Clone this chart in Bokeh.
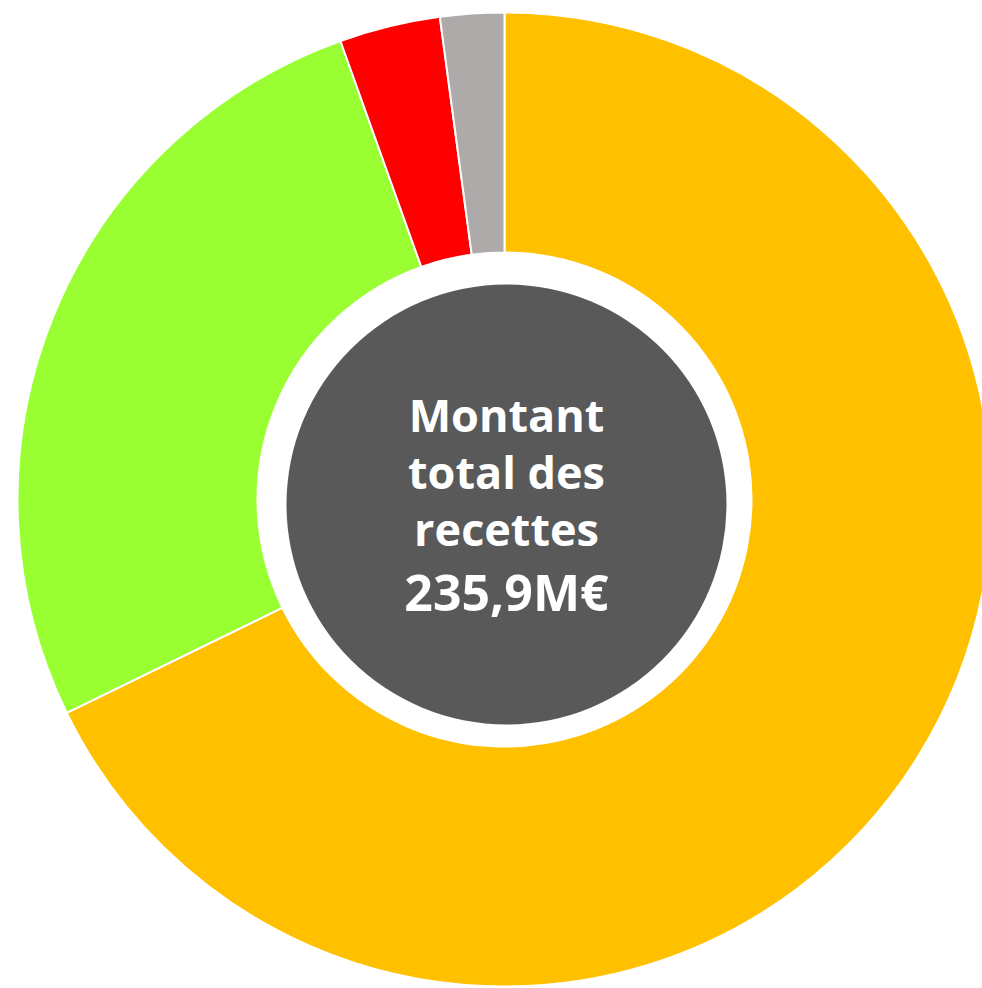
import math
from bokeh.plotting import figure
from bokeh.models import Range1d
from bokeh.core.properties import value
from bokeh.embed import file_html
from bokeh.resources import INLINE

# Data (M€)
categories = ["Catégorie A", "Catégorie B", "Catégorie C", "Catégorie D"]
amounts = [159.9, 63.1, 7.9, 5.0]
colors = ["#FFC000", "#99FF33", "#FF0000", "#AEAAAA"]
center_lines = ["Montant", "total des", "recettes", "235,9M€"]

W, H = 982, 988
p = figure(width=W, height=H, output_backend="svg", toolbar_location=None,
           x_range=Range1d(0, W), y_range=Range1d(0, H), min_border=0,
           background_fill_color="white", border_fill_color="white")
p.axis.visible = False
p.grid.visible = False
p.outline_line_color = None

cx, cy = 504, 489
total = sum(amounts)
starts, ends = [], []
acc = 0.0
for a in amounts:
    s = math.pi / 2 - 2 * math.pi * acc / total
    acc += a
    e = math.pi / 2 - 2 * math.pi * acc / total
    starts.append(s)
    ends.append(e)

p.annular_wedge(x=[cx] * len(amounts), y=[cy] * len(amounts), inner_radius=247, outer_radius=487,
                start_angle=starts, end_angle=ends, direction="clock",
                fill_color=colors, line_color="white", line_width=2)

p.circle(x=[506], y=[484], radius=220, fill_color="#595959", line_color=None)

p.text(x=[506, 506, 506], y=[574, 517, 460], text=center_lines[:3],
       text_font=value("Open Sans"), text_font_style="bold", text_font_size="45px",
       text_color="white", text_align="center", text_baseline="alphabetic")
p.text(x=[506], y=[397], text=center_lines[3:],
       text_font=value("Open Sans"), text_font_style="bold", text_font_size="50px",
       text_color="white", text_align="center", text_baseline="alphabetic")

open("out.html", "w").write(file_html(p, INLINE))
